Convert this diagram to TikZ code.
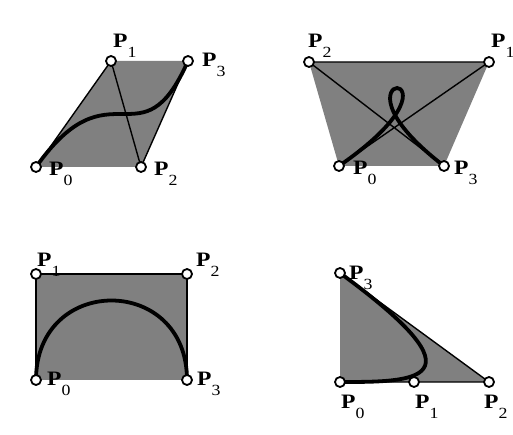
\documentclass[tikz,border=0pt]{standalone}
\usepackage{fontspec}
\setmainfont{Liberation Serif}
\definecolor{hullgray}{RGB}{128,128,128}
\newcommand{\lbl}[1]{\scalebox{1.15}[1]{\fontsize{20.5}{20.5}\selectfont\textbf{P}\raisebox{-10pt}{\fontsize{15.5}{15.5}\selectfont #1}}}
\tikzset{
  hull/.style={fill=hullgray, draw=none},
  ctrl/.style={line width=1.4pt, black},
  curve/.style={line width=3.8pt, black},
  pt/.style={circle, draw=black, fill=white, line width=1.8pt, minimum size=10pt, inner sep=0pt},
  lab/.style={anchor=base west, inner sep=0pt}
}
\begin{document}
\begin{tikzpicture}[x=1pt,y=-1pt]
\useasboundingbox (0,0) rectangle (513,435);
% ---------- Panel 1 ----------
\coordinate (a0) at (36,167);
\coordinate (a1) at (111,61);
\coordinate (a2) at (141,167);
\coordinate (a3) at (188,61);
\fill[hull] (a0) -- (a1) -- (a3) -- (a2) -- cycle;
\draw[ctrl] (a0) -- (a1) -- (a2) -- (a3);
\draw[curve] (a0) .. controls (a1) and (a2) .. (a3);
\node[pt] (na0) at (a0) {};
\node[pt] (na1) at (a1) {};
\node[pt] (na2) at (a2) {};
\node[pt] (na3) at (a3) {};
\node[lab] (la1) at (113,48) {\lbl{1}};
\node[lab] (la3) at (202,67) {\lbl{3}};
\node[lab] (la0) at (49,176) {\lbl{0}};
\node[lab] (la2) at (154,176) {\lbl{2}};
% ---------- Panel 2 ----------
\coordinate (b0) at (339,166);
\coordinate (b1) at (489,62);
\coordinate (b2) at (309,62);
\coordinate (b3) at (444,166);
\fill[hull] (b2) -- (b1) -- (b3) -- (b0) -- cycle;
\draw[ctrl] (b0) -- (b1) -- (b2) -- (b3);
\draw[curve] (b0) .. controls (b1) and (b2) .. (b3);
\node[pt] (nb0) at (b0) {};
\node[pt] (nb1) at (b1) {};
\node[pt] (nb2) at (b2) {};
\node[pt] (nb3) at (b3) {};
\node[lab] (lb2) at (308,48) {\lbl{2}};
\node[lab] (lb1) at (491,48) {\lbl{1}};
\node[lab] (lb0) at (353,175) {\lbl{0}};
\node[lab] (lb3) at (454,175) {\lbl{3}};
% ---------- Panel 3 ----------
\coordinate (c0) at (36,380);
\coordinate (c1) at (36,274);
\coordinate (c2) at (187,274);
\coordinate (c3) at (187,380);
\fill[hull] (c0) -- (c1) -- (c2) -- (c3) -- cycle;
\draw[ctrl] (c0) -- (c1) -- (c2) -- (c3);
\draw[curve] (c0) .. controls (c1) and (c2) .. (c3);
\node[pt] (nc0) at (c0) {};
\node[pt] (nc1) at (c1) {};
\node[pt] (nc2) at (c2) {};
\node[pt] (nc3) at (c3) {};
\node[lab] (lc1) at (37,266) {\lbl{1}};
\node[lab] (lc2) at (196,266) {\lbl{2}};
\node[lab] (lc0) at (47,385) {\lbl{0}};
\node[lab] (lc3) at (197,385) {\lbl{3}};
% ---------- Panel 4 ----------
\coordinate (d0) at (340,382);
\coordinate (d1) at (414,382);
\coordinate (d2) at (489,382);
\coordinate (d3) at (340,273);
\fill[hull] (d0) -- (d2) -- (d3) -- cycle;
\draw[ctrl] (d0) -- (d1) -- (d2) -- (d3);
\draw[curve] (d0) .. controls (d1) and (d2) .. (d3);
\node[pt] (nd0) at (d0) {};
\node[pt] (nd1) at (d1) {};
\node[pt] (nd2) at (d2) {};
\node[pt] (nd3) at (d3) {};
\node[lab] (ld3) at (349,279) {\lbl{3}};
\node[lab] (ld0) at (341,408) {\lbl{0}};
\node[lab] (ld1) at (415,408) {\lbl{1}};
\node[lab] (ld2) at (484,408) {\lbl{2}};
\end{tikzpicture}
\end{document}
